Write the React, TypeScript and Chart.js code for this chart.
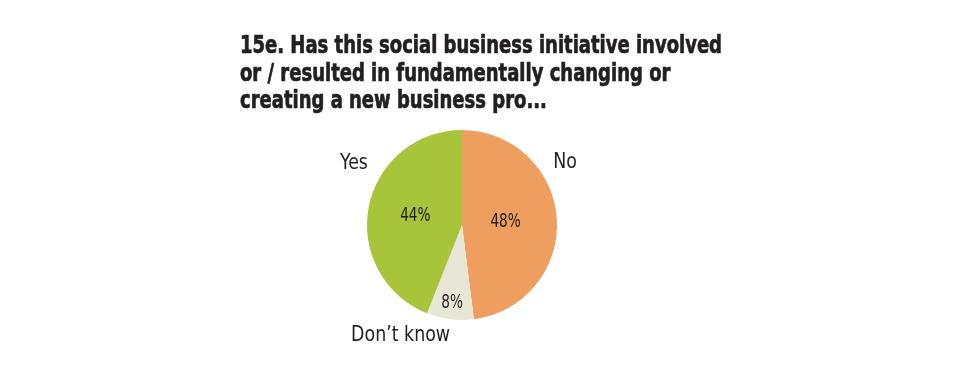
import React, { useEffect, useRef } from "react";
import { Chart, registerables } from "chart.js";
Chart.register(...registerables);

const categories = ["No", "Don’t know", "Yes"];
const values = [48, 8, 44];
const valueLabels = ["48%", "8%", "44%"];
const titleLines = [
  "15e. Has this social business initiative involved",
  "or / resulted in fundamentally changing or",
  "creating a new business pro...",
];
const colors = ["#EE9E5E", "#E8E6D7", "#A8C43B"];

const TEXT = "#231F20";
const NARROW = '"DejaVu Sans Condensed", "DejaVu Sans", sans-serif';

// label placement styles (fraction along slice, radius factor)
const innerFrac = [0.46, 0.83, 0.5];
const outerAlong = [0.34, 1.26, 0.62];
const outerDist = [1.27, 1.33, 1.31];

function drawScaled(
  ctx: CanvasRenderingContext2D,
  text: string,
  x: number,
  y: number,
  sx: number,
  align: "left" | "center",
  stroke = 0
) {
  const w = ctx.measureText(text).width * sx;
  const left = align === "center" ? x - w / 2 : x;
  ctx.save();
  ctx.translate(left, y);
  ctx.scale(sx, 1);
  ctx.textAlign = "left";
  ctx.fillText(text, 0, 0);
  if (stroke > 0) {
    ctx.strokeStyle = ctx.fillStyle as string;
    ctx.lineWidth = stroke;
    ctx.lineJoin = "round";
    ctx.strokeText(text, 0, 0);
  }
  ctx.restore();
}

const labelPlugin = {
  id: "labels",
  afterDraw(chart: any) {
    const ctx: CanvasRenderingContext2D = chart.ctx;
    ctx.save();
    ctx.fillStyle = TEXT;
    ctx.textBaseline = "alphabetic";
    // title
    ctx.font = `bold 25px ${NARROW}`;
    const sTitle = 482 / ctx.measureText(titleLines[0]).width;
    const baselines = [53, 80.5, 107.5];
    titleLines.forEach((t, i) => drawScaled(ctx, t, 240, baselines[i], sTitle, "left", 0.7));

    const meta = chart.getDatasetMeta(0);
    meta.data.forEach((arc: any, i: number) => {
      const { x, y, startAngle, endAngle, outerRadius } = arc.getProps(
        ["x", "y", "startAngle", "endAngle", "outerRadius"],
        true
      );
      const mid = (startAngle + endAngle) / 2;
      ctx.font = `19px ${NARROW}`;
      const r1 = outerRadius * innerFrac[i];
      drawScaled(ctx, valueLabels[i], x + Math.cos(mid) * r1, y + Math.sin(mid) * r1 + 5, 0.8, "center");
      const a = startAngle + (endAngle - startAngle) * outerAlong[i];
      const r2 = outerRadius * outerDist[i];
      ctx.font = `22px ${NARROW}`;
      drawScaled(ctx, categories[i], x + Math.cos(a) * r2, y + Math.sin(a) * r2 + 6, 0.88, "center");
    });
    ctx.restore();
  },
};

export default function App() {
  const ref = useRef<HTMLCanvasElement | null>(null);
  useEffect(() => {
    if (!ref.current) return;
    const chart = new Chart(ref.current, {
      type: "pie",
      data: {
        labels: categories,
        datasets: [
          {
            data: values,
            backgroundColor: colors,
            borderWidth: 0,
          },
        ],
      },
      options: {
        animation: false,
        responsive: false,
        maintainAspectRatio: false,
        layout: { padding: { left: 367, right: 403, top: 130, bottom: 53 } },
        plugins: {
          legend: { display: false },
          title: { display: false },
          tooltip: { enabled: false },
        },
      },
      plugins: [labelPlugin],
    });
    return () => chart.destroy();
  }, []);
  return (
    <div style={{ position: "absolute", left: 0, top: 0, width: 960, height: 373, background: "#fff" }}>
      <canvas ref={ref} width={960} height={373} style={{ display: "block", width: 960, height: 373 }} />
    </div>
  );
}
